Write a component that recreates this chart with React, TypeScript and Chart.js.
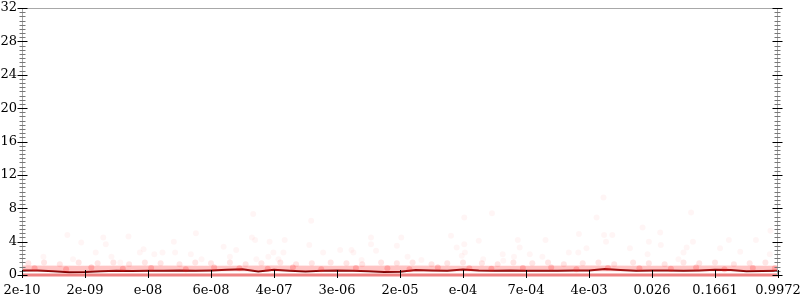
import React, { useEffect, useRef } from "react";
import { Chart, registerables } from "chart.js";

Chart.register(...registerables);

const xLabels = ["2e-10", "2e-09", "e-08", "6e-08", "4e-07", "3e-06", "2e-05", "e-04", "7e-04", "4e-03", "0.026", "0.1661", "0.9972"];

const meanX = [0, 0.25, 0.5, 0.75, 1, 1.25, 1.5, 1.75, 2, 2.25, 2.5, 2.75, 3, 3.25, 3.5, 3.75, 4, 4.25, 4.5, 4.75, 5, 5.25, 5.5, 5.75, 6, 6.25, 6.5, 6.75, 7, 7.25, 7.5, 7.75, 8, 8.25, 8.5, 8.75, 9, 9.25, 9.5, 9.75, 10, 10.25, 10.5, 10.75, 11, 11.25, 11.5, 11.75, 12];
const meanY = [0.55, 0.55, 0.45, 0.32, 0.35, 0.45, 0.5, 0.48, 0.52, 0.5, 0.55, 0.52, 0.55, 0.62, 0.7, 0.42, 0.62, 0.5, 0.42, 0.5, 0.55, 0.52, 0.45, 0.35, 0.38, 0.6, 0.55, 0.5, 0.65, 0.55, 0.5, 0.55, 0.5, 0.52, 0.5, 0.55, 0.55, 0.72, 0.6, 0.5, 0.55, 0.55, 0.5, 0.55, 0.62, 0.6, 0.45, 0.48, 0.5];

const bandX = [0, 1, 2, 3, 4, 5, 6, 7, 8, 9, 10, 11, 12];
const bandHigh = [1.15, 1.1, 1.15, 1.1, 1.15, 1.1, 1.15, 1.1, 1.1, 1.15, 1.1, 1.15, 1.1];
const bandLow = [0.45, 0.4, 0.45, 0.45, 0.45, 0.45, 0.4, 0.45, 0.45, 0.45, 0.45, 0.45, 0.45];

const zeroX = [0, 12];
const zeroY = [0, 0];

const outX = [0.72, 0.94, 1.29, 1.33, 1.69, 1.17, 0.34, 0.81, 1.42, 1.56, 1.87, 1.93, 2.1, 2.23, 2.43, 2.41, 2.76, 2.68, 2.85, 3.2, 3.3, 3.4, 3.67, 3.65, 3.7, 3.72, 3.93, 3.91, 4.07, 4.59, 4.17, 4.56, 3.99, 4.15, 4.78, 5.05, 5.23, 5.26, 5.54, 5.54, 5.62, 5.39, 5.95, 6.02, 6.12, 6.34, 6.81, 7.02, 7.02, 6.9, 7.03, 6.98, 7.25, 7.46, 7.63, 7.87, 7.9, 7.81, 7.32, 7.64, 9.23, 9.12, 10.62, 9.85, 8.84, 9.24, 9.27, 9.37, 8.31, 8.96, 8.68, 8.83, 9.95, 10.13, 10.14, 9.65, 9.93, 10.5, 10.55, 10.65, 10.42, 11.08, 11.22, 11.4, 11.65, 11.88, 11.87, 8.06, 8.26];
const outY = [4.8, 3.9, 4.5, 3.7, 4.6, 2.7, 2.2, 1.9, 2.2, 1.5, 2.7, 3.1, 2.5, 2.7, 2.7, 4.0, 5.0, 2.5, 1.9, 3.4, 2.2, 3.0, 7.3, 4.5, 4.2, 1.9, 4.0, 2.2, 1.9, 6.5, 4.2, 3.6, 2.7, 2.7, 2.7, 3.0, 3.0, 2.7, 4.5, 3.7, 2.9, 1.8, 3.5, 4.5, 2.2, 1.8, 4.7, 6.9, 3.7, 3.3, 2.7, 2.3, 4.1, 7.4, 2.5, 4.2, 3.3, 2.2, 1.9, 1.7, 9.3, 6.9, 7.5, 5.7, 4.9, 4.8, 4.0, 4.8, 4.2, 3.2, 2.7, 2.7, 4.0, 5.1, 3.6, 3.2, 2.5, 2.7, 3.3, 4.0, 1.9, 3.2, 4.2, 2.8, 4.2, 5.3, 2.5, 2.5, 2.2];

const bandPtsX = [0.1, 0.35, 0.6, 0.9, 1.2, 1.45, 1.7, 1.95, 2.2, 2.5, 2.75, 3.0, 3.3, 3.55, 3.8, 4.1, 4.35, 4.6, 4.9, 5.15, 5.4, 5.7, 5.95, 6.2, 6.5, 6.75, 7.0, 7.3, 7.55, 7.8, 8.1, 8.35, 8.6, 8.9, 9.15, 9.4, 9.7, 9.95, 10.2, 10.5, 10.75, 11.0, 11.3, 11.55, 11.8];
const bandPtsY = [1.4, 1.5, 1.3, 1.5, 1.4, 1.5, 1.3, 1.5, 1.4, 1.3, 1.5, 1.4, 1.5, 1.3, 1.4, 1.5, 1.3, 1.4, 1.5, 1.4, 1.3, 1.5, 1.4, 1.5, 1.3, 1.4, 1.5, 1.4, 1.3, 1.5, 1.4, 1.5, 1.3, 1.4, 1.5, 1.3, 1.5, 1.4, 1.3, 1.5, 1.4, 1.5, 1.3, 1.4, 1.5];

const densePtsX = [0.2, 0.7, 1.1, 1.6, 2.05, 2.6, 3.05, 3.45, 3.9, 4.3, 4.75, 5.3, 5.8, 6.15, 6.6, 7.1, 7.45, 7.95, 8.4, 8.8, 9.3, 9.8, 10.3, 10.7, 11.15, 11.6, 11.95];
const densePtsY = [0.8, 0.7, 0.9, 0.75, 0.85, 0.7, 0.9, 0.8, 0.75, 0.9, 0.7, 0.85, 0.8, 0.7, 0.9, 0.8, 0.75, 0.85, 0.9, 0.7, 0.85, 0.8, 0.75, 0.9, 0.7, 0.85, 0.8];

const pts = (xs: number[], ys: number[]) => xs.map((x, i) => ({ x, y: ys[i] }));

const FONT = { family: "DejaVu Serif", size: 13 };

const gnuAxes = {
  id: "gnuAxes",
  afterDatasetsDraw(chart: any) {
    const { ctx, chartArea } = chart;
    const { left, right, top, bottom } = chartArea;
    const y = chart.scales.y;
    const x = chart.scales.x;
    ctx.save();
    ctx.lineWidth = 1;
    ctx.strokeStyle = "#a8a8a8";
    ctx.beginPath();
    ctx.moveTo(left, top + 0.5);
    ctx.lineTo(right, top + 0.5);
    ctx.moveTo(left + 0.5, top);
    ctx.lineTo(left + 0.5, bottom);
    ctx.moveTo(right - 0.5, top);
    ctx.lineTo(right - 0.5, bottom);
    ctx.stroke();
    for (let v = 0; v <= 32; v += 0.5) {
      const py = Math.round(y.getPixelForValue(v)) + 0.5;
      const major = v % 4 === 0;
      const len = major ? 5 : 3;
      ctx.strokeStyle = major ? "#000" : "#777";
      ctx.beginPath();
      ctx.moveTo(left + 0.5 - len, py);
      ctx.lineTo(left + 0.5 + len, py);
      ctx.moveTo(right - 0.5 - len, py);
      ctx.lineTo(right - 0.5 + len, py);
      ctx.stroke();
    }
    ctx.strokeStyle = "#000";
    for (let i = 0; i < xLabels.length; i++) {
      const px = Math.round(x.getPixelForValue(i)) + 0.5;
      ctx.beginPath();
      ctx.moveTo(px, bottom - 5);
      ctx.lineTo(px, bottom + 3);
      ctx.stroke();
    }
    ctx.restore();
  },
};

export default function App() {
  const ref = useRef<HTMLCanvasElement>(null);
  useEffect(() => {
    if (!ref.current) return;
    const chart = new Chart(ref.current, {
      type: "scatter",
      data: {
        datasets: [
          {
            type: "line",
            data: pts(bandX, bandHigh),
            borderWidth: 0,
            pointRadius: 0,
            fill: "+1",
            backgroundColor: "rgba(255,60,60,0.3)",
            borderColor: "rgba(0,0,0,0)",
          },
          {
            type: "line",
            data: pts(bandX, bandLow),
            borderWidth: 0,
            pointRadius: 0,
            fill: false,
            borderColor: "rgba(0,0,0,0)",
          },
          {
            type: "line",
            data: pts(zeroX, zeroY),
            borderWidth: 3,
            pointRadius: 0,
            borderColor: "rgba(235,90,90,0.75)",
            clip: false,
          },
          {
            data: pts(outX, outY),
            pointRadius: 3,
            borderWidth: 0,
            backgroundColor: "rgba(255,0,0,0.04)",
          },
          {
            data: pts(bandPtsX, bandPtsY),
            pointRadius: 3,
            borderWidth: 0,
            backgroundColor: "rgba(255,0,0,0.1)",
          },
          {
            data: pts(densePtsX, densePtsY),
            pointRadius: 3,
            borderWidth: 0,
            backgroundColor: "rgba(255,0,0,0.2)",
          },
          {
            type: "line",
            data: pts(meanX, meanY),
            borderWidth: 2,
            pointRadius: 0,
            borderColor: "rgb(120,0,0)",
            tension: 0,
          },
        ],
      } as any,
      options: {
        animation: false,
        responsive: false,
        maintainAspectRatio: false,
        layout: { padding: { top: 8, right: 22, left: 0, bottom: 0 } },
        plugins: { legend: { display: false }, tooltip: { enabled: false } },
        scales: {
          x: {
            type: "linear",
            min: 0,
            max: 12,
            grid: { display: false, drawTicks: false },
            border: { display: false },
            ticks: {
              stepSize: 1,
              autoSkip: false,
              maxRotation: 0,
              color: "#000",
              font: FONT,
              padding: 8,
              callback: (v: any) => xLabels[v] ?? "",
            },
            afterFit: (s: any) => {
              s.height = 25;
              s.paddingLeft = 0;
              s.paddingRight = 0;
            },
          },
          y: {
            min: 0,
            max: 32,
            grid: { display: false, drawTicks: false },
            border: { display: false },
            ticks: { stepSize: 4, color: "#000", font: FONT, padding: 5 },
            afterFit: (s: any) => {
              s.width = 22;
              s.paddingTop = 0;
              s.paddingBottom = 0;
            },
          },
        },
      } as any,
      plugins: [gnuAxes],
    });
    return () => chart.destroy();
  }, []);
  return (
    <div style={{ position: "absolute", left: 0, top: 0, width: 800, height: 300, background: "#fff" }}>
      <canvas ref={ref} width={800} height={300} />
    </div>
  );
}
